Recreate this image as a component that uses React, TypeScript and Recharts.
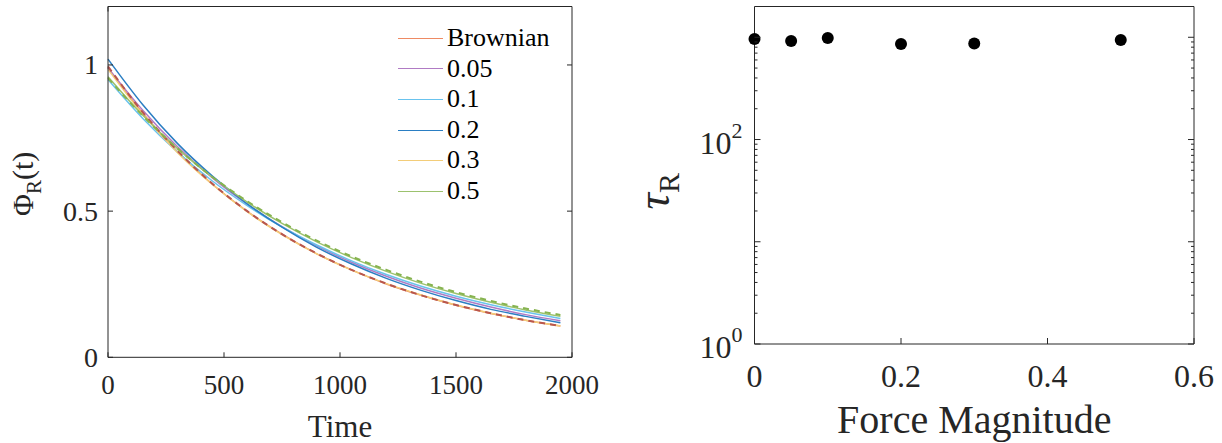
import React from "react";
import { LineChart, Line, XAxis, YAxis, Legend, ScatterChart, Scatter } from "recharts";

// Left panel: Phi_R(t) decay curves, one per force magnitude
const times = [0, 150, 300, 450, 600, 750, 900, 1050, 1200, 1350, 1500, 1650, 1800, 1950];
const brownian = [0.99, 0.835, 0.703, 0.592, 0.499, 0.421, 0.354, 0.299, 0.251, 0.212, 0.178, 0.15, 0.127, 0.107];
const force005 = [0.99, 0.845, 0.72, 0.614, 0.524, 0.447, 0.381, 0.325, 0.277, 0.236, 0.202, 0.172, 0.146, 0.125];
const force01 = [0.95, 0.817, 0.702, 0.603, 0.519, 0.446, 0.384, 0.33, 0.283, 0.243, 0.209, 0.18, 0.155, 0.133];
const force02 = [1.02, 0.864, 0.731, 0.62, 0.525, 0.445, 0.376, 0.319, 0.27, 0.229, 0.194, 0.164, 0.14, 0.118];
const force03 = [0.985, 0.831, 0.7, 0.591, 0.498, 0.42, 0.354, 0.298, 0.252, 0.213, 0.179, 0.151, 0.127, 0.107];
const force05 = [0.96, 0.828, 0.714, 0.616, 0.531, 0.458, 0.395, 0.341, 0.294, 0.253, 0.218, 0.188, 0.162, 0.14];
// dashed fits that show through
const fitBrownian = [0.995, 0.838, 0.706, 0.594, 0.5, 0.421, 0.355, 0.299, 0.252, 0.212, 0.179, 0.151, 0.127, 0.107];
const fit05 = [0.955, 0.826, 0.714, 0.617, 0.534, 0.462, 0.399, 0.345, 0.299, 0.258, 0.223, 0.193, 0.167, 0.145];

const seriesNames = ["Brownian", "0.05", "0.1", "0.2", "0.3", "0.5"];
const seriesColors = ["#EE8A63", "#B07BC4", "#69C3EE", "#2A7EC3", "#F3CD79", "#9CC26E"];
const seriesValues = [brownian, force005, force01, force02, force03, force05];

// Right panel: relaxation time vs force
const forces = [0, 0.05, 0.1, 0.2, 0.3, 0.5];
const tauR = [962, 920, 985, 860, 868, 942];

const timeTicks = [0, 500, 1000, 1500, 2000];
const phiTicks = [0, 0.5, 1];
const forceTicks = [0, 0.2, 0.4, 0.6];
const tauTicks = [1, 2, 3, 4, 5, 6, 7, 8, 9, 10, 20, 30, 40, 50, 60, 70, 80, 90, 100, 200, 300, 400, 500, 600, 700, 800, 900, 1000];
const tauLabeled = [1, 100];

const curveData = times.map((t, i) => {
  const row: Record<string, number> = { t, fitB: fitBrownian[i], fit5: fit05[i] };
  seriesValues.forEach((vals, k) => (row["s" + k] = vals[i]));
  return row;
});
const tauData = forces.map((f, i) => ({ f, tau: tauR[i] }));

const AXIS = "#262626";
const FONT = "'Liberation Serif', 'DejaVu Serif', 'Times New Roman', serif";

// ticks point inward like matlab; axis tickSize/tickMargin are 0 so p.x/p.y sit on the axis line
const bottomTick = (len: number, fs: number, dy: number, show: boolean) => (p: any) => (
  <g>
    <line x1={p.x} y1={p.y} x2={p.x} y2={p.y - len} stroke={AXIS} />
    {show && (
      <text x={p.x} y={p.y + dy} textAnchor="middle" fontSize={fs} fontFamily={FONT} fill={AXIS}>
        {String(p.payload.value)}
      </text>
    )}
  </g>
);

const topTick = (len: number) => (p: any) => (
  <line x1={p.x} y1={p.y} x2={p.x} y2={p.y + len} stroke={AXIS} />
);

const leftTick = (fs: number, show: boolean) => (p: any) => (
  <g>
    <line x1={p.x} y1={p.y} x2={p.x + 5} y2={p.y} stroke={AXIS} />
    {show && (
      <text x={p.x - 10} y={p.y + fs * 0.34} textAnchor="end" fontSize={fs} fontFamily={FONT} fill={AXIS}>
        {String(p.payload.value)}
      </text>
    )}
  </g>
);

const rightTick = (len: number) => (p: any) => (
  <line x1={p.x} y1={p.y} x2={p.x - len} y2={p.y} stroke={AXIS} />
);

const logLen = (v: number) => (Number.isInteger(Math.log10(v)) ? 6 : 3);

const logLeftTick = (p: any) => {
  const v = p.payload.value;
  return (
    <g>
      <line x1={p.x} y1={p.y} x2={p.x + logLen(v)} y2={p.y} stroke={AXIS} />
      {tauLabeled.includes(v) && (
        <text x={p.x - 12} y={p.y + 14} textAnchor="end" fontSize={32} fontFamily={FONT} fill={AXIS}>
          10
          <tspan dy={-16} fontSize={22}>
            {Math.round(Math.log10(v))}
          </tspan>
        </text>
      )}
    </g>
  );
};

const logRightTick = (p: any) => (
  <line x1={p.x} y1={p.y} x2={p.x - logLen(p.payload.value)} y2={p.y} stroke={AXIS} />
);

function TimeTitle({ viewBox }: any) {
  return (
    <text x={viewBox.x + viewBox.width / 2} y={viewBox.y + 80} textAnchor="middle" fontSize={31} fontFamily={FONT} fill={AXIS}>
      Time
    </text>
  );
}

function PhiTitle({ viewBox }: any) {
  const cx = viewBox.x + viewBox.width - 75;
  const cy = viewBox.y + viewBox.height / 2 + 2;
  return (
    <text transform={`translate(${cx},${cy}) rotate(-90)`} textAnchor="middle" fontSize={30} fontFamily={FONT} fill={AXIS}>
      Φ<tspan fontSize={21} dy={8}>R</tspan>
      <tspan dy={-8}>(t)</tspan>
    </text>
  );
}

function ForceTitle({ viewBox }: any) {
  return (
    <text x={viewBox.x + viewBox.width / 2} y={viewBox.y + 89} textAnchor="middle" fontSize={40} fontFamily={FONT} fill={AXIS}>
      Force Magnitude
    </text>
  );
}

function TauTitle({ viewBox }: any) {
  const cx = viewBox.x + viewBox.width - 86;
  const cy = viewBox.y + viewBox.height / 2 + 16;
  return (
    <text transform={`translate(${cx},${cy}) rotate(-90)`} textAnchor="middle" fontSize={46} fontFamily={FONT} fill={AXIS}>
      <tspan fontStyle="italic">τ</tspan>
      <tspan fontSize={30} dy={10}>R</tspan>
    </text>
  );
}

function CurveLegend() {
  return (
    <div style={{ fontFamily: FONT, fontSize: 26, color: "#000" }}>
      {seriesNames.map((name, k) => (
        <div key={name} style={{ display: "flex", alignItems: "center", height: 30.6 }}>
          <span style={{ width: 45, height: 0, borderTop: `1.5px solid ${seriesColors[k]}`, marginRight: 4 }} />
          <span style={{ lineHeight: "30.6px" }}>{name}</span>
        </div>
      ))}
    </div>
  );
}

const axisCommon = {
  interval: 0 as const,
  tickSize: 0,
  tickMargin: 0,
  tickLine: false,
  axisLine: { stroke: AXIS },
};

export default function App() {
  return (
    <div style={{ position: "absolute", left: 0, top: 0, width: 1222, height: 443, background: "#fff" }}>
      <div style={{ position: "absolute", left: 0, top: 0 }}>
        <LineChart width={610} height={443} data={curveData} margin={{ top: 5.5, right: 37, bottom: 84.7, left: 107 }}>
          <XAxis {...axisCommon} type="number" dataKey="t" domain={[0, 2000]} ticks={timeTicks} height={1}
            tick={bottomTick(5, 27, 37, true)} label={<TimeTitle />} />
          <XAxis {...axisCommon} xAxisId="top" orientation="top" type="number" domain={[0, 2000]} allowDataOverflow
            ticks={timeTicks} height={1} tick={topTick(5)} />
          <YAxis {...axisCommon} type="number" domain={[0, 1.2]} ticks={phiTicks} width={1}
            tick={leftTick(28, true)} label={<PhiTitle />} />
          <YAxis {...axisCommon} yAxisId="right" orientation="right" type="number" domain={[0, 1.2]} allowDataOverflow
            ticks={phiTicks} width={1} tick={rightTick(5)} />
          {seriesNames.map((name, k) => (
            <Line
              key={name}
              type="monotone"
              dataKey={"s" + k}
              name={name}
              stroke={seriesColors[k]}
              strokeWidth={1.5}
              dot={false}
              isAnimationActive={false}
            />
          ))}
          <Line type="monotone" dataKey="fitB" stroke="#B8564E" strokeWidth={2} strokeDasharray="6 5" dot={false} legendType="none" isAnimationActive={false} />
          <Line type="monotone" dataKey="fit5" stroke="#86B34F" strokeWidth={2} strokeDasharray="6 5" dot={false} legendType="none" isAnimationActive={false} />
          <Legend
            layout="vertical"
            align="center"
            verticalAlign="middle"
            content={<CurveLegend />}
            wrapperStyle={{ left: 398, top: 23, width: "auto" }}
          />
        </LineChart>
      </div>

      <div style={{ position: "absolute", left: 610, top: 0 }}>
        <ScatterChart width={612} height={443} margin={{ top: 5.5, right: 27, bottom: 98, left: 143.5 }}>
          <XAxis {...axisCommon} type="number" dataKey="f" domain={[0, 0.6]} ticks={forceTicks} height={1}
            tick={bottomTick(6, 32, 43, true)} label={<ForceTitle />} />
          <XAxis {...axisCommon} xAxisId="top" orientation="top" type="number" domain={[0, 0.6]} allowDataOverflow
            ticks={forceTicks} height={1} tick={topTick(6)} />
          <YAxis {...axisCommon} type="number" dataKey="tau" scale="log" domain={[1, 2000]} ticks={tauTicks} width={1}
            tick={logLeftTick} label={<TauTitle />} />
          <YAxis {...axisCommon} yAxisId="right" orientation="right" type="number" scale="log" domain={[1, 2000]}
            allowDataOverflow ticks={tauTicks} width={1} tick={logRightTick} />
          <Scatter
            data={tauData}
            fill="#000"
            isAnimationActive={false}
            shape={(p: any) => <circle cx={p.cx} cy={p.cy} r={6} fill="#000" />}
          />
        </ScatterChart>
      </div>
    </div>
  );
}
